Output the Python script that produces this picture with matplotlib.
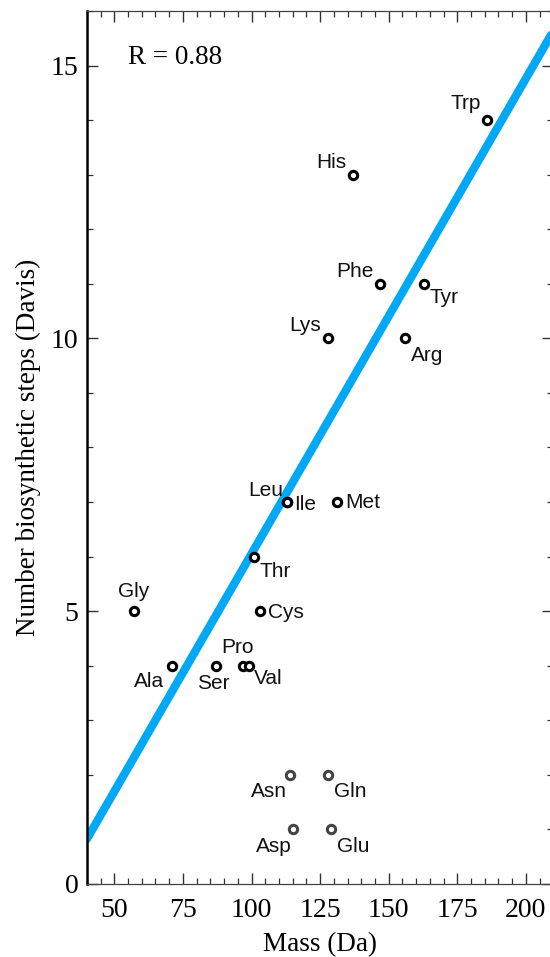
import numpy as np
import matplotlib
matplotlib.use("Agg")
import matplotlib.pyplot as plt
from matplotlib.ticker import MultipleLocator

# amino acid residue masses (Da) vs. number of biosynthetic steps (Davis)
names = ["Gly", "Ala", "Ser", "Pro", "Val", "Thr", "Cys", "Leu", "Ile", "Met",
         "Lys", "His", "Phe", "Tyr", "Arg", "Trp"]
mass = [57, 71, 87, 97, 99, 101, 103, 113, 113, 131, 128, 137, 147, 163, 156, 186]
steps = [5, 4, 4, 4, 4, 6, 5, 7, 7, 7, 10, 13, 11, 11, 10, 14]

# excluded from the fit (drawn gray)
names_out = ["Asn", "Gln", "Asp", "Glu"]
mass_out = [114, 128, 115, 129]
steps_out = [2, 2, 1, 1]

# label offsets (points) and alignment
offsets = {
    "Gly": (0, 14, "center"), "Ala": (-6, -11, "right"), "Ser": (-2, -13, "center"),
    "Pro": (-4, 13, "center"), "Val": (4, -9, "left"), "Thr": (4, -11, "left"),
    "Cys": (6, -1, "left"), "Leu": (-3, 8, "right"), "Ile": (5, -2, "left"),
    "Met": (6, 0, "left"), "Lys": (-5, 9, "right"), "His": (-5, 9, "right"),
    "Phe": (-5, 9, "right"), "Tyr": (4, -10, "left"), "Arg": (4, -12, "left"),
    "Trp": (-5, 12, "right"), "Asn": (-2, -12, "right"), "Gln": (4, -12, "left"),
    "Asp": (-1, -12, "right"), "Glu": (4, -12, "left"),
}

serif = "Liberation Serif"
sans = "Liberation Sans"

fig = plt.figure(figsize=(5.5, 9.57), dpi=100)
ax = fig.add_axes([0.158, 0.0763, 1.006 - 0.158, 0.9885 - 0.0763])

x = np.array(mass, dtype=float)
y = np.array(steps, dtype=float)
slope, icpt = np.polyfit(x, y, 1)
r = np.corrcoef(x, y)[0, 1]
xf = np.array([40, 210])
ax.plot(xf, slope * xf + icpt, color="#00a8f5", lw=6, solid_capstyle="round", zorder=2)

ax.plot(mass, steps, "o", ms=6, mfc="white", mec="black", mew=2.2, zorder=3)
ax.plot(mass_out, steps_out, "o", ms=6, mfc="white", mec="#444444", mew=2.2, zorder=3)

for n, mx, sy in zip(names + names_out, mass + mass_out, steps + steps_out):
    dx, dy, ha = offsets[n]
    ax.annotate(n, (mx, sy), xytext=(dx, dy), textcoords="offset points",
                ha=ha, va="center", fontsize=15, family=sans, color="#111111")

ax.text(0.088, 0.947, "R = %.2f" % r, transform=ax.transAxes, ha="left", va="center",
        fontsize=19.5, family=serif)

ax.set_xlim(40, 210)
ax.set_ylim(0, 16)
ax.xaxis.set_major_locator(MultipleLocator(25))
ax.xaxis.set_minor_locator(MultipleLocator(5))
ax.yaxis.set_major_locator(MultipleLocator(5))
ax.yaxis.set_minor_locator(MultipleLocator(1))
ax.tick_params(which="both", direction="in", top=True, right=True, color="#333333")
ax.tick_params(which="major", length=8, width=1)
ax.tick_params(which="minor", length=4.5, width=0.9)
ax.tick_params(axis="x", which="major", pad=10)
ax.tick_params(axis="y", which="major", pad=6)
for lab in ax.get_xticklabels() + ax.get_yticklabels():
    lab.set_family(serif)
    lab.set_fontsize(20)

ax.spines["left"].set_linewidth(1.8)
ax.spines["left"].set_color("black")
for s in ["bottom", "top", "right"]:
    ax.spines[s].set_linewidth(0.9)
    ax.spines[s].set_color("#444444")

ax.set_xlabel("Mass (Da)", family=serif, fontsize=19.5, labelpad=7)
ax.set_ylabel("Number biosynthetic steps (Davis)", family=serif, fontsize=19.5, labelpad=7)

fig.savefig("out.png", dpi=100)
